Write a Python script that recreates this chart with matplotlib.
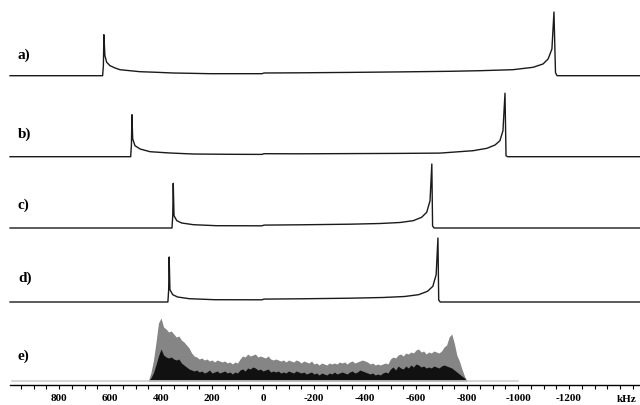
import numpy as np
import matplotlib
matplotlib.use("Agg")
import matplotlib.pyplot as plt

plt.rcParams['font.family'] = ['Liberation Serif', 'DejaVu Serif']
plt.rcParams['axes.unicode_minus'] = False

# traces a-d: frequency (kHz) and intensity
a_freq = [992, 629, 626, 624, 620, 613, 600, 580, 561, 522, 482, 417, 353, 286, 208, 129, 4, -4,
          -145, -341, -537, -733, -851, -980, -1059, -1098, -1118, -1133, -1141, -1147, -1153, -1478]
a_int = [0, 0, 10, 41, 20, 13.4, 10, 7.7, 6, 5, 4, 3.4, 2.7, 2.4, 2, 2, 2, 2.7,
         2.9, 3.3, 3.8, 4.4, 5, 6, 8.4, 11.7, 16.7, 26.7, 63.7, 3, 0, 0]

b_freq = [992, 519, 516, 514, 511, 502, 482, 443, 365, 275, 129, 4, -4,
          -145, -341, -537, -694, -824, -878, -910, -929, -941, -949, -953, -959, -1478]
b_int = [0, 0, 12, 42, 17.7, 11, 7.7, 5, 3.7, 2.7, 2.4, 2.3, 3,
         2.9, 3.1, 3.3, 3.6, 6, 8.4, 11.7, 16, 26, 63.5, 1, 0, 0]

c_freq = [992, 357, 354, 352, 349, 338, 319, 273, 182, 4, -4,
          -145, -341, -459, -537, -589, -622, -642, -655, -662, -665, -671, -1478]
c_int = [0, 0, 12, 44.7, 12.3, 7.3, 5, 3.3, 2.3, 2.2, 2.9,
         3.2, 3.8, 4.5, 5.5, 7.3, 10.7, 15.7, 27.3, 64, 2, 0, 0]

d_freq = [992, 373, 370, 368, 365, 354, 335, 289, 190, 4, -4,
          -145, -341, -470, -555, -610, -645, -666, -679, -686, -689, -695, -1478]
d_int = [0, 0, 12, 45, 12.3, 7.3, 5, 3.3, 2.3, 2.2, 2.9,
         3.2, 3.8, 4.5, 5.5, 7.3, 10.7, 15.7, 27.3, 64, 2, 0, 0]

# trace e: experimental spectrum, 450 -> -800 kHz in 10 kHz steps
e_freq = np.arange(450, -801, -10)
e_gray = [0, 8, 20, 38, 58, 63, 54, 52, 49, 50,
          47, 44, 45, 41, 39, 36, 33, 28, 25, 24,
          22, 23, 21, 22, 20, 21, 19, 21, 20, 19,
          20, 18, 19, 17, 19, 18, 22, 25, 24, 27,
          25, 26, 27, 24, 25, 24, 23, 25, 22, 21,
          22, 21, 20, 21, 19, 21, 20, 19, 21, 20,
          18, 20, 19, 18, 20, 17, 18, 16, 18, 17,
          16, 18, 17, 18, 17, 19, 18, 19, 17, 19,
          20, 18, 19, 20, 21, 20, 19, 17, 18, 16,
          17, 16, 17, 18, 17, 22, 24, 23, 26, 27,
          25, 28, 27, 29, 28, 31, 32, 29, 30, 27,
          29, 28, 30, 29, 28, 30, 34, 36, 44, 47,
          38, 26, 20, 12, 5, 0]
e_black = [0, 3, 8, 16, 25, 32, 26, 24, 23, 24,
           22, 21, 22, 18, 16, 14, 12, 11, 10, 11,
           9, 10, 8, 9, 11, 8, 9, 10, 8, 9,
           10, 8, 9, 7, 9, 8, 11, 12, 10, 13,
           12, 14, 13, 11, 12, 10, 11, 12, 9, 10,
           9, 10, 8, 9, 8, 10, 9, 8, 10, 9,
           8, 9, 7, 8, 9, 7, 8, 6, 8, 7,
           6, 8, 7, 9, 7, 8, 9, 8, 7, 9,
           10, 8, 9, 11, 10, 9, 8, 7, 8, 6,
           7, 6, 8, 9, 8, 12, 14, 11, 15, 13,
           12, 15, 13, 16, 14, 17, 16, 14, 15, 13,
           14, 13, 15, 14, 13, 15, 16, 15, 14, 13,
           11, 9, 7, 5, 3, 0]
e_base = [984, -1000]

labels = ['a)', 'b)', 'c)', 'd)', 'e)']
offsets = [309.3, 228.3, 157, 83, 4]
label_dy = [21, 23, 24, 25, 26]
tick_vals = [800, 600, 400, 200, 0, -200, -400, -600, -800, -1000, -1200]

fig = plt.figure(figsize=(6.4, 4.06), dpi=100)
ax = fig.add_axes([0, 20 / 406, 1, 386 / 406])
ax.set_xlim(1031.4, -1478.4)
ax.set_ylim(0, 386)

traces = [(a_freq, a_int), (b_freq, b_int), (c_freq, c_int), (d_freq, d_int)]
for (f, y), off in zip(traces, offsets[:4]):
    ax.plot(f, np.array(y) + off, color='#1a1a1a', lw=1.0)

off_e = offsets[4]
ax.plot(e_base, [off_e, off_e], color='#cfcfcf', lw=1.2)
ax.fill_between(e_freq, off_e, off_e + np.array(e_gray), color='#858585', lw=0)
ax.fill_between(e_freq, off_e, off_e + np.array(e_black), color='#111111', lw=0)

for lab, off, dy in zip(labels, offsets, label_dy):
    ax.text(961, off + dy, lab, ha='left', va='center', fontsize=11, fontweight='bold')

for s in ['top', 'left', 'right']:
    ax.spines[s].set_visible(False)
ax.spines['bottom'].set_bounds(992, -1478)
ax.spines['bottom'].set_linewidth(1.0)
ax.set_yticks([])
ax.set_xticks(tick_vals)
ax.set_xticklabels([str(v) for v in tick_vals], fontsize=8, fontweight='bold')
ax.set_xticks(np.arange(950, -1451, -50), minor=True)
ax.tick_params(axis='x', which='both', direction='out', length=3, width=0.8, pad=3)
ax.text(-1425, -14, 'kHz', ha='center', va='center', fontsize=8, fontweight='bold', clip_on=False)

fig.savefig('out.png', dpi=100)
